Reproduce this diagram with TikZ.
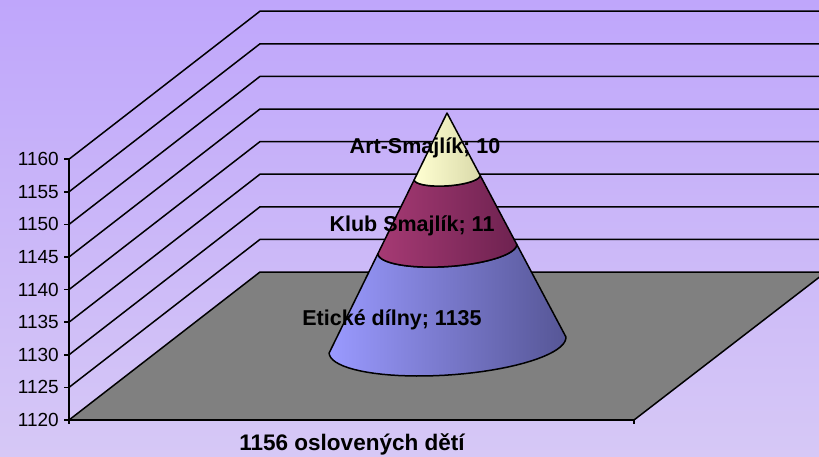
\documentclass[tikz,border=0pt]{standalone}
\usepackage{fontspec}
\setmainfont{Liberation Sans}
\usepackage{tikz}

\definecolor{bgtop}{RGB}{191,166,251}
\definecolor{bgbot}{RGB}{214,200,246}
\definecolor{floorgray}{RGB}{128,128,128}
\definecolor{blueL}{RGB}{154,154,255}
\definecolor{blueR}{RGB}{86,86,150}
\definecolor{maroonL}{RGB}{166,58,116}
\definecolor{maroonR}{RGB}{110,34,80}
\definecolor{yellowL}{RGB}{255,255,210}
\definecolor{yellowR}{RGB}{218,218,170}

\begin{document}
\begin{tikzpicture}[x=1pt,y=-1pt,
    declare function={
        rx(\t,\a)=447+0.5*\t+118.7*\t*cos(\a)*cos(3.9)+30*\t*sin(\a)*sin(3.9);
        ry(\t,\a)=113+232*\t-118.7*\t*cos(\a)*sin(3.9)+30*\t*sin(\a)*cos(3.9);
    },
    wallline/.style={draw=black,line width=1.5pt},
    ylab/.style={anchor=east,inner sep=0pt,font=\fontsize{19}{22}\selectfont},
    seglab/.style={inner sep=0pt,font=\fontsize{21.5}{25}\selectfont\bfseries}]
                \useasboundingbox (0,0) rectangle (819,456);
                \shade[top color=bgtop,bottom color=bgbot] (0,0) rectangle (819,456);

                % back walls
                \path[wallline] (69,387.4) -- (260,239.4) -- (819,239.4);
                \path[wallline] (69,354.8) -- (260,206.8) -- (819,206.8);
                \path[wallline] (69,322.2) -- (260,174.2) -- (819,174.2);
                \path[wallline] (69,289.6) -- (260,141.6) -- (819,141.6);
                \path[wallline] (69,257.0) -- (260,109.0) -- (819,109.0);
                \path[wallline] (69,224.4) -- (260,76.4) -- (819,76.4);
                \path[wallline] (69,191.8) -- (260,43.8) -- (819,43.8);
                \path[wallline] (69,159.2) -- (260,11.2) -- (819,11.2);

                % floor
                \path[wallline,fill=floorgray] (69,420) -- (260,272) -- (826,272) -- (634,420) -- cycle;

                % axes
                \path[wallline] (69,159.2) -- (69,424);
                \path[wallline] (64,420) -- (634,420) -- (634,424);
                \path[wallline] (64,387.4) -- (69,387.4);
                \path[wallline] (64,354.8) -- (69,354.8);
                \path[wallline] (64,322.2) -- (69,322.2);
                \path[wallline] (64,289.6) -- (69,289.6);
                \path[wallline] (64,257.0) -- (69,257.0);
                \path[wallline] (64,224.4) -- (69,224.4);
                \path[wallline] (64,191.8) -- (69,191.8);
                \path[wallline] (64,159.2) -- (69,159.2);

                \node[ylab] (Y0) at (59,420) {1120};
                \node[ylab] (Y1) at (59,387.4) {1125};
                \node[ylab] (Y2) at (59,354.8) {1130};
                \node[ylab] (Y3) at (59,322.2) {1135};
                \node[ylab] (Y4) at (59,289.6) {1140};
                \node[ylab] (Y5) at (59,257.0) {1145};
                \node[ylab] (Y6) at (59,224.4) {1150};
                \node[ylab] (Y7) at (59,191.8) {1155};
                \node[ylab] (Y8) at (59,159.2) {1160};

                % cone
                \shadedraw[left color=blueL,right color=blueR,line width=1.5pt,line join=round]
                    plot[domain=0:180,samples=40] ({rx(1,\x)},{ry(1,\x)})
                    -- plot[domain=180:0,samples=40] ({rx(0.586,\x)},{ry(0.586,\x)}) -- cycle;
                \shadedraw[left color=maroonL,right color=maroonR,line width=1.5pt,line join=round]
                    plot[domain=0:180,samples=40] ({rx(0.586,\x)},{ry(0.586,\x)})
                    -- plot[domain=180:0,samples=40] ({rx(0.278,\x)},{ry(0.278,\x)}) -- cycle;
                \shadedraw[left color=yellowL,right color=yellowR,line width=1.5pt,line join=round]
                    (447,113) -- plot[domain=0:180,samples=40] ({rx(0.278,\x)},{ry(0.278,\x)}) -- cycle;

                \node[seglab] (A) at (425,148) {Art-Smajlík; 10};
                \node[seglab] (B) at (412,226) {Klub Smajlík; 11};
                \node[seglab] (C) at (392,320) {Etické dílny; 1135};
                \node[seglab,font=\fontsize{22.5}{26}\selectfont\bfseries] (D) at (352,444) {1156 oslovených dětí};
            \end{tikzpicture}
\end{document}
